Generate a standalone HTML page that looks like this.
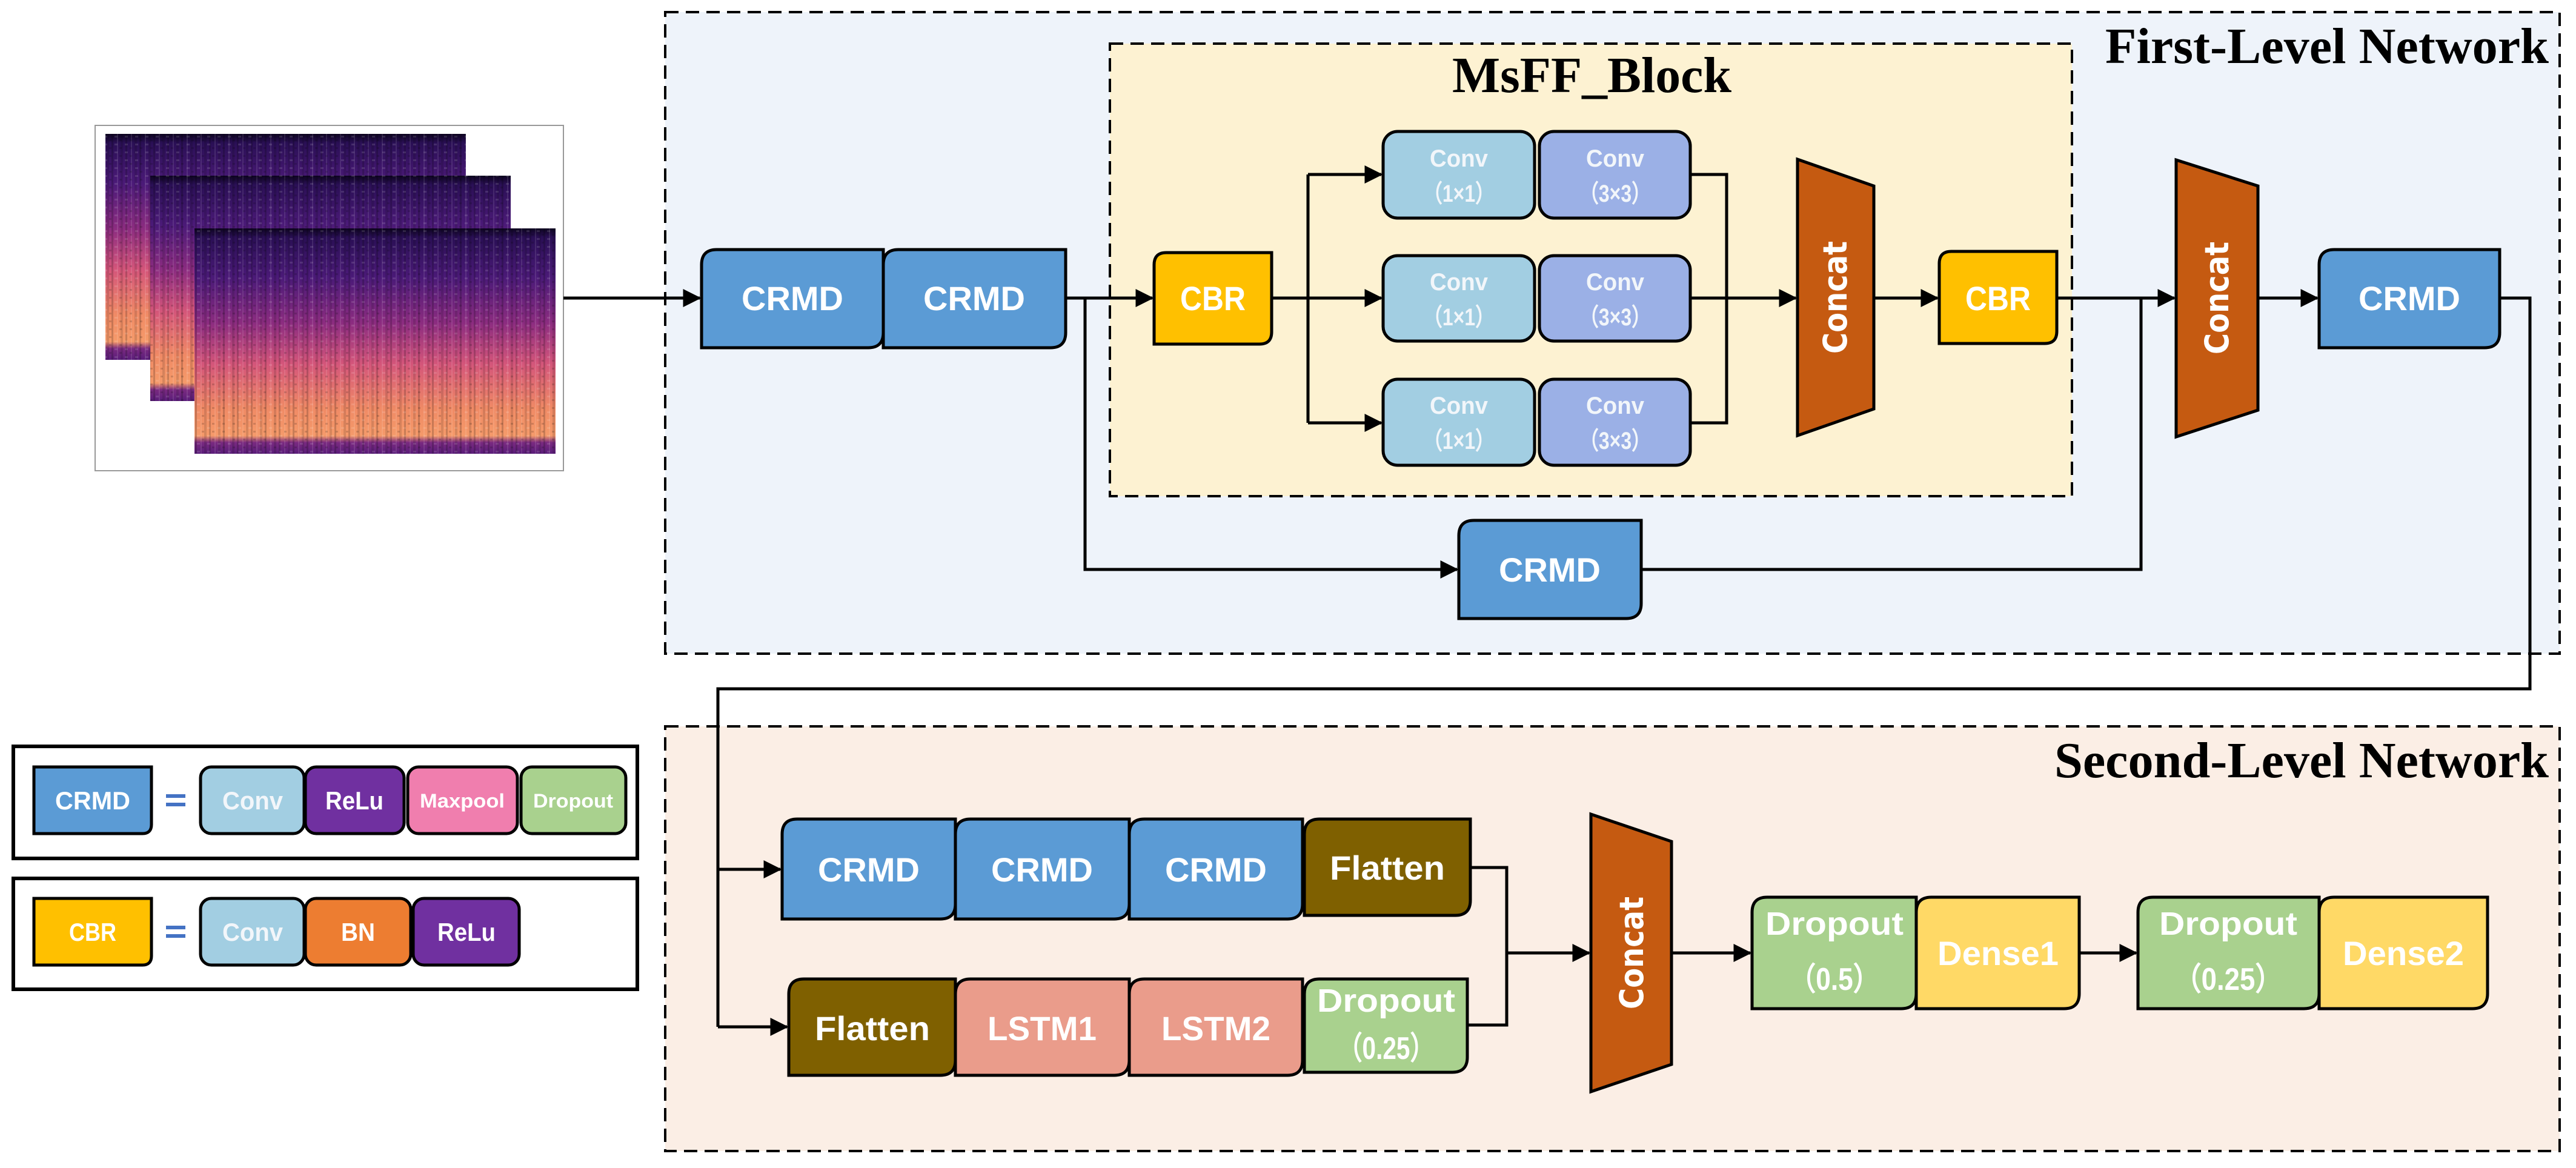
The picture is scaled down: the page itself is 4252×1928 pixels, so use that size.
<!DOCTYPE html>
<html><head><meta charset="utf-8"><style>html,body{margin:0;padding:0;background:#fff}svg{display:block}</style></head>
<body>
<svg width="4252" height="1928" viewBox="0 0 4252 1928" xmlns="http://www.w3.org/2000/svg">
<defs>
<marker id="ar" markerWidth="6" markerHeight="6" refX="5.5" refY="3" orient="auto" markerUnits="strokeWidth"><path d="M0,0 L6,3 L0,6 Z" fill="#000"/></marker>
<linearGradient id="spec" x1="0" y1="0" x2="0" y2="1">
<stop offset="0" stop-color="#0d0420"/><stop offset="0.04" stop-color="#2a0f55"/><stop offset="0.22" stop-color="#4b1a78"/><stop offset="0.42" stop-color="#8c2c80"/><stop offset="0.6" stop-color="#d4557a"/><stop offset="0.8" stop-color="#f08a65"/><stop offset="0.92" stop-color="#f59a6a"/><stop offset="0.95" stop-color="#7a2a80"/><stop offset="1" stop-color="#5a1d7a"/>
</linearGradient>
<pattern id="stripes" width="23" height="40" patternUnits="userSpaceOnUse">
<rect x="0" y="0" width="3" height="40" fill="#000" opacity="0.18"/><rect x="9" y="0" width="2" height="40" fill="#fff" opacity="0.1"/><rect x="15" y="0" width="4" height="40" fill="#000" opacity="0.12"/>
</pattern>
<pattern id="speck" width="17" height="13" patternUnits="userSpaceOnUse">
<rect x="2" y="3" width="5" height="3" fill="#fff" opacity="0.12"/><rect x="10" y="9" width="4" height="3" fill="#000" opacity="0.15"/>
</pattern>
</defs>

<rect x="1098" y="20" width="3127" height="1059" fill="#EEF3FA" stroke="#000" stroke-width="4" stroke-dasharray="22,12"/>
<rect x="1832" y="72" width="1588" height="747" fill="#FDF2D2" stroke="#000" stroke-width="4" stroke-dasharray="22,12"/>
<rect x="1098" y="1199" width="3127" height="701" fill="#FBEEE5" stroke="#000" stroke-width="4" stroke-dasharray="22,12"/>

<g font-family="Liberation Serif, serif" font-weight="bold" fill="#000">
<text x="3475" y="104" font-size="84" textLength="732" lengthAdjust="spacingAndGlyphs">First-Level Network</text>
<text x="2397" y="152" font-size="84" textLength="461" lengthAdjust="spacingAndGlyphs">MsFF_Block</text>
<text x="3391" y="1283" font-size="84" textLength="816" lengthAdjust="spacingAndGlyphs">Second-Level Network</text>
</g>

<rect x="157" y="207" width="773" height="570" fill="#fff" stroke="#999" stroke-width="2"/>
<rect x="174" y="221" width="595" height="373" fill="url(#spec)"/><rect x="174" y="221" width="595" height="373" fill="url(#stripes)"/><rect x="174" y="221" width="595" height="373" fill="url(#speck)"/>
<rect x="248" y="290" width="595" height="372" fill="url(#spec)"/><rect x="248" y="290" width="595" height="372" fill="url(#stripes)"/><rect x="248" y="290" width="595" height="372" fill="url(#speck)"/>
<rect x="321" y="377" width="596" height="372" fill="url(#spec)"/><rect x="321" y="377" width="596" height="372" fill="url(#stripes)"/><rect x="321" y="377" width="596" height="372" fill="url(#speck)"/>

<g stroke="#000" stroke-width="5" fill="none">
<line x1="930" y1="492" x2="1155" y2="492" marker-end="url(#ar)"/>
<line x1="1759" y1="492" x2="1902" y2="492" marker-end="url(#ar)"/>
<polyline points="1791,492 1791,940 2405,940" marker-end="url(#ar)"/>
<line x1="2099" y1="492" x2="2159" y2="492"/>
<line x1="2159" y1="288" x2="2159" y2="698"/>
<line x1="2159" y1="288" x2="2280" y2="288" marker-end="url(#ar)"/>
<line x1="2159" y1="492" x2="2280" y2="492" marker-end="url(#ar)"/>
<line x1="2159" y1="698" x2="2280" y2="698" marker-end="url(#ar)"/>
<polyline points="2790,288 2850,288 2850,698 2790,698"/>
<line x1="2790" y1="492" x2="2964" y2="492" marker-end="url(#ar)"/>
<line x1="3093" y1="492" x2="3198" y2="492" marker-end="url(#ar)"/>
<line x1="3395" y1="492" x2="3589" y2="492" marker-end="url(#ar)"/>
<polyline points="2709,940 3534,940 3534,492"/>
<line x1="3727" y1="492" x2="3825" y2="492" marker-end="url(#ar)"/>
<polyline points="4126,492 4176,492 4176,1137 1185,1137 1185,1695"/>
<line x1="1185" y1="1435" x2="1288" y2="1435" marker-end="url(#ar)"/>
<line x1="1185" y1="1695" x2="1299" y2="1695" marker-end="url(#ar)"/>
<polyline points="2427,1432 2487,1432 2487,1692 2422,1692"/>
<line x1="2487" y1="1573" x2="2623" y2="1573" marker-end="url(#ar)"/>
<line x1="2759" y1="1573" x2="2889" y2="1573" marker-end="url(#ar)"/>
<line x1="3432" y1="1573" x2="3526" y2="1573" marker-end="url(#ar)"/>
</g>

<g stroke="#000" stroke-width="5">
<path d="M1183,412 H1458 V549 Q1458,574 1433,574 H1158 V437 Q1158,412 1183,412 Z" fill="#5B9BD5"/>
<path d="M1483,412 H1759 V549 Q1759,574 1734,574 H1458 V437 Q1458,412 1483,412 Z" fill="#5B9BD5"/>
<path d="M1925,417 H2099 V548 Q2099,568 2079,568 H1905 V437 Q1905,417 1925,417 Z" fill="#FFC000"/>
<path d="M3221,415 H3395 V547 Q3395,567 3375,567 H3201 V435 Q3201,415 3221,415 Z" fill="#FFC000"/>
<path d="M3853,412 H4126 V549 Q4126,574 4101,574 H3828 V437 Q3828,412 3853,412 Z" fill="#5B9BD5"/>
<path d="M2433,859 H2709 V996 Q2709,1021 2684,1021 H2408 V884 Q2408,859 2433,859 Z" fill="#5B9BD5"/>

<rect x="2283" y="217" width="250" height="143" rx="24" fill="#A2CEE2"/>
<rect x="2541" y="217" width="249" height="143" rx="24" fill="#9BB0E6"/>
<rect x="2283" y="422" width="250" height="141" rx="24" fill="#A2CEE2"/>
<rect x="2541" y="422" width="249" height="141" rx="24" fill="#9BB0E6"/>
<rect x="2283" y="626" width="250" height="142" rx="24" fill="#A2CEE2"/>
<rect x="2541" y="626" width="249" height="142" rx="24" fill="#9BB0E6"/>

<polygon points="2967,263 3093,307 3093,675 2967,719" fill="#C55A11"/>
<polygon points="3592,264 3727,307 3727,677 3592,721" fill="#C55A11"/>
<polygon points="2626,1344 2759,1389 2759,1757 2626,1802" fill="#C55A11"/>

<path d="M1316,1352 H1577 V1492 Q1577,1517 1552,1517 H1291 V1377 Q1291,1352 1316,1352 Z" fill="#5B9BD5"/>
<path d="M1602,1352 H1864 V1492 Q1864,1517 1839,1517 H1577 V1377 Q1577,1352 1602,1352 Z" fill="#5B9BD5"/>
<path d="M1889,1352 H2150 V1492 Q2150,1517 2125,1517 H1864 V1377 Q1864,1352 1889,1352 Z" fill="#5B9BD5"/>
<path d="M2178,1352 H2427 V1486 Q2427,1511 2402,1511 H2153 V1377 Q2153,1352 2178,1352 Z" fill="#7F6000"/>
<path d="M1327,1616 H1577 V1750 Q1577,1775 1552,1775 H1302 V1641 Q1302,1616 1327,1616 Z" fill="#7F6000"/>
<path d="M1602,1616 H1864 V1750 Q1864,1775 1839,1775 H1577 V1641 Q1577,1616 1602,1616 Z" fill="#EA9C8B"/>
<path d="M1889,1616 H2150 V1750 Q2150,1775 2125,1775 H1864 V1641 Q1864,1616 1889,1616 Z" fill="#EA9C8B"/>
<path d="M2178,1616 H2422 V1745 Q2422,1770 2397,1770 H2153 V1641 Q2153,1616 2178,1616 Z" fill="#A9D18E"/>
<path d="M2917,1481 H3163 V1640 Q3163,1665 3138,1665 H2892 V1506 Q2892,1481 2917,1481 Z" fill="#A9D18E"/>
<path d="M3188,1481 H3432 V1640 Q3432,1665 3407,1665 H3163 V1506 Q3163,1481 3188,1481 Z" fill="#FFD966"/>
<path d="M3554,1481 H3828 V1640 Q3828,1665 3803,1665 H3529 V1506 Q3529,1481 3554,1481 Z" fill="#A9D18E"/>
<path d="M3853,1481 H4106 V1640 Q4106,1665 4081,1665 H3828 V1506 Q3828,1481 3853,1481 Z" fill="#FFD966"/>
</g>

<g stroke="#000" stroke-width="6" fill="#fff">
<rect x="22" y="1232" width="1030" height="185"/>
<rect x="22" y="1450" width="1030" height="183"/>
</g>
<g stroke="#000" stroke-width="5">
<path d="M56,1266 H250 V1361 Q250,1376 235,1376 H56 Z" fill="#5B9BD5"/>
<rect x="331" y="1266" width="171" height="110" rx="18" fill="#A2CEE2"/>
<rect x="504" y="1266" width="163" height="110" rx="18" fill="#7030A0"/>
<rect x="673" y="1266" width="181" height="110" rx="18" fill="#F07EAE"/>
<rect x="860" y="1266" width="173" height="110" rx="18" fill="#A9D18E"/>
<path d="M56,1483 H250 V1578 Q250,1593 235,1593 H56 Z" fill="#FFC000"/>
<rect x="331" y="1483" width="171" height="110" rx="18" fill="#A2CEE2"/>
<rect x="504" y="1483" width="174" height="110" rx="18" fill="#ED7D31"/>
<rect x="682" y="1483" width="175" height="110" rx="18" fill="#7030A0"/>
</g>
<g fill="#4472C4">
<rect x="274" y="1311" width="32" height="6"/><rect x="274" y="1325" width="32" height="6"/>
<rect x="274" y="1528" width="32" height="6"/><rect x="274" y="1542" width="32" height="6"/>
</g>

<g font-family="Liberation Sans, sans-serif" font-weight="bold" fill="#fff" text-anchor="middle">
<text x="1308" y="512" font-size="56" textLength="168" lengthAdjust="spacingAndGlyphs">CRMD</text>
<text x="1608" y="512" font-size="56" textLength="168" lengthAdjust="spacingAndGlyphs">CRMD</text>
<text x="2002" y="512" font-size="56" textLength="108" lengthAdjust="spacingAndGlyphs">CBR</text>
<text x="3298" y="512" font-size="56" textLength="108" lengthAdjust="spacingAndGlyphs">CBR</text>
<text x="3977" y="512" font-size="56" textLength="168" lengthAdjust="spacingAndGlyphs">CRMD</text>
<text x="2558" y="960" font-size="56" textLength="168" lengthAdjust="spacingAndGlyphs">CRMD</text>
<text x="1434" y="1455" font-size="56" textLength="168" lengthAdjust="spacingAndGlyphs">CRMD</text>
<text x="1720" y="1455" font-size="56" textLength="168" lengthAdjust="spacingAndGlyphs">CRMD</text>
<text x="2007" y="1455" font-size="56" textLength="168" lengthAdjust="spacingAndGlyphs">CRMD</text>
<text x="2290" y="1452" font-size="56" textLength="190" lengthAdjust="spacingAndGlyphs">Flatten</text>
<text x="1440" y="1717" font-size="56" textLength="190" lengthAdjust="spacingAndGlyphs">Flatten</text>
<text x="1720" y="1717" font-size="56" textLength="180" lengthAdjust="spacingAndGlyphs">LSTM1</text>
<text x="2007" y="1717" font-size="56" textLength="180" lengthAdjust="spacingAndGlyphs">LSTM2</text>
<text x="2288" y="1670" font-size="54" textLength="228" lengthAdjust="spacingAndGlyphs">Dropout</text>
<text x="2288" y="1748" font-size="52" textLength="160" lengthAdjust="spacingAndGlyphs">（0.25）</text>
<text x="3028" y="1543" font-size="54" textLength="228" lengthAdjust="spacingAndGlyphs">Dropout</text>
<text x="3028" y="1634" font-size="52" textLength="150" lengthAdjust="spacingAndGlyphs">（0.5）</text>
<text x="3298" y="1593" font-size="56" textLength="200" lengthAdjust="spacingAndGlyphs">Dense1</text>
<text x="3678" y="1543" font-size="54" textLength="228" lengthAdjust="spacingAndGlyphs">Dropout</text>
<text x="3678" y="1634" font-size="52" textLength="180" lengthAdjust="spacingAndGlyphs">（0.25）</text>
<text x="3967" y="1593" font-size="56" textLength="200" lengthAdjust="spacingAndGlyphs">Dense2</text>

<g fill="#F2F6FA" font-size="40">
<text x="2408" y="275" textLength="96" lengthAdjust="spacingAndGlyphs">Conv</text>
<text x="2408" y="333" textLength="118" lengthAdjust="spacingAndGlyphs">（1×1）</text>
<text x="2666" y="275" textLength="96" lengthAdjust="spacingAndGlyphs">Conv</text>
<text x="2666" y="333" textLength="118" lengthAdjust="spacingAndGlyphs">（3×3）</text>
<text x="2408" y="479" textLength="96" lengthAdjust="spacingAndGlyphs">Conv</text>
<text x="2408" y="537" textLength="118" lengthAdjust="spacingAndGlyphs">（1×1）</text>
<text x="2666" y="479" textLength="96" lengthAdjust="spacingAndGlyphs">Conv</text>
<text x="2666" y="537" textLength="118" lengthAdjust="spacingAndGlyphs">（3×3）</text>
<text x="2408" y="683" textLength="96" lengthAdjust="spacingAndGlyphs">Conv</text>
<text x="2408" y="741" textLength="118" lengthAdjust="spacingAndGlyphs">（1×1）</text>
<text x="2666" y="683" textLength="96" lengthAdjust="spacingAndGlyphs">Conv</text>
<text x="2666" y="741" textLength="118" lengthAdjust="spacingAndGlyphs">（3×3）</text>
</g>

<g font-family="DejaVu Sans, sans-serif" font-size="54">
<text transform="translate(3048,491) rotate(-90)" textLength="186" lengthAdjust="spacingAndGlyphs">Concat</text>
<text transform="translate(3678,492) rotate(-90)" textLength="186" lengthAdjust="spacingAndGlyphs">Concat</text>
<text transform="translate(2712,1573) rotate(-90)" textLength="186" lengthAdjust="spacingAndGlyphs">Concat</text>
</g>

<g font-size="42">
<text x="153" y="1336" textLength="124" lengthAdjust="spacingAndGlyphs">CRMD</text>
<text x="417" y="1336" fill="#F2F6FA" textLength="100" lengthAdjust="spacingAndGlyphs">Conv</text>
<text x="585" y="1336" textLength="96" lengthAdjust="spacingAndGlyphs">ReLu</text>
<text x="763" y="1333" font-size="32" textLength="140" lengthAdjust="spacingAndGlyphs">Maxpool</text>
<text x="946" y="1333" font-size="32" textLength="132" lengthAdjust="spacingAndGlyphs">Dropout</text>
<text x="153" y="1553" textLength="78" lengthAdjust="spacingAndGlyphs">CBR</text>
<text x="417" y="1553" fill="#F2F6FA" textLength="100" lengthAdjust="spacingAndGlyphs">Conv</text>
<text x="591" y="1553" textLength="56" lengthAdjust="spacingAndGlyphs">BN</text>
<text x="770" y="1553" textLength="96" lengthAdjust="spacingAndGlyphs">ReLu</text>
</g>
</g>
</svg>
</body></html>
